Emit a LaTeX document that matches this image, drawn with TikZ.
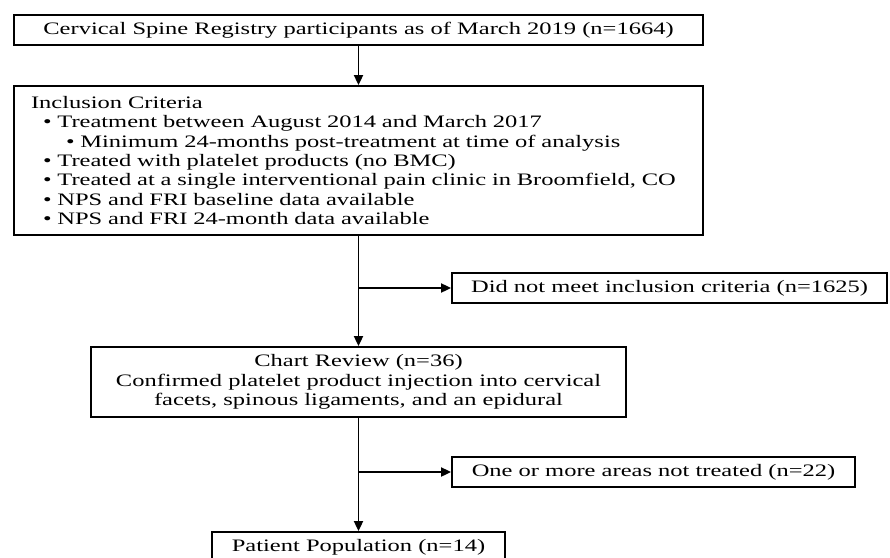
\documentclass[tikz,border=0pt]{standalone}
\usepackage{fontspec}
\setmainfont[FakeStretch=1.4]{Liberation Serif}
\usetikzlibrary{positioning,arrows.meta}

\begin{document}
\begin{tikzpicture}[x=1pt,y=1pt,
    box/.style={draw, line width=1.8pt, minimum height=30pt, inner sep=0pt,
      font=\fontsize{17.5}{19.3}\selectfont},
    flow/.style={line width=1.8pt, -{Triangle[length=10pt,width=9pt]}}]
  \useasboundingbox (0,0) rectangle (890,-557);

  % Main column
  \node[box, minimum width=689pt] (registry) at (358.5,-30)
    {Cervical Spine Registry participants as of March 2019 (n=1664)};
  \node[box, text width=655pt, inner xsep=17pt, minimum height=149pt, align=left] (criteria) at (358.5,-160.5)
    {Inclusion Criteria\\
     \hspace*{12pt}\textbullet\ Treatment between August 2014 and March 2017\\
     \hspace*{35pt}\textbullet\ Minimum 24-months post-treatment at time of analysis\\
     \hspace*{12pt}\textbullet\ Treated with platelet products (no BMC)\\
     \hspace*{12pt}\textbullet\ Treated at a single interventional pain clinic in Broomfield, CO\\
     \hspace*{12pt}\textbullet\ NPS and FRI baseline data available\\
     \hspace*{12pt}\textbullet\ NPS and FRI 24-month data available};
  \node[box, minimum width=535pt, minimum height=70pt, align=center] (chart) at (358.5,-382)
    {Chart Review (n=36)\\
     Confirmed platelet product injection into cervical\\
     facets, spinous ligaments, and an epidural};
  \node[box, minimum width=293pt] (population) at (358.5,-547)
    {Patient Population (n=14)};

  % Exclusions
  \node[box, minimum width=435pt] (notmet) at (669.5,-288)
    {Did not meet inclusion criteria (n=1625)};
  \node[box, minimum width=403pt] (untreated) at (653.5,-472)
    {One or more areas not treated (n=22)};

  \draw[flow] (registry) -- (criteria);
  \draw[flow] (criteria) -- (chart);
  \draw[flow] (chart) -- (population);
  \draw[flow] (criteria.south |- notmet.west) -- (notmet.west);
  \draw[flow] (chart.south |- untreated.west) -- (untreated.west);
\end{tikzpicture}
\end{document}
